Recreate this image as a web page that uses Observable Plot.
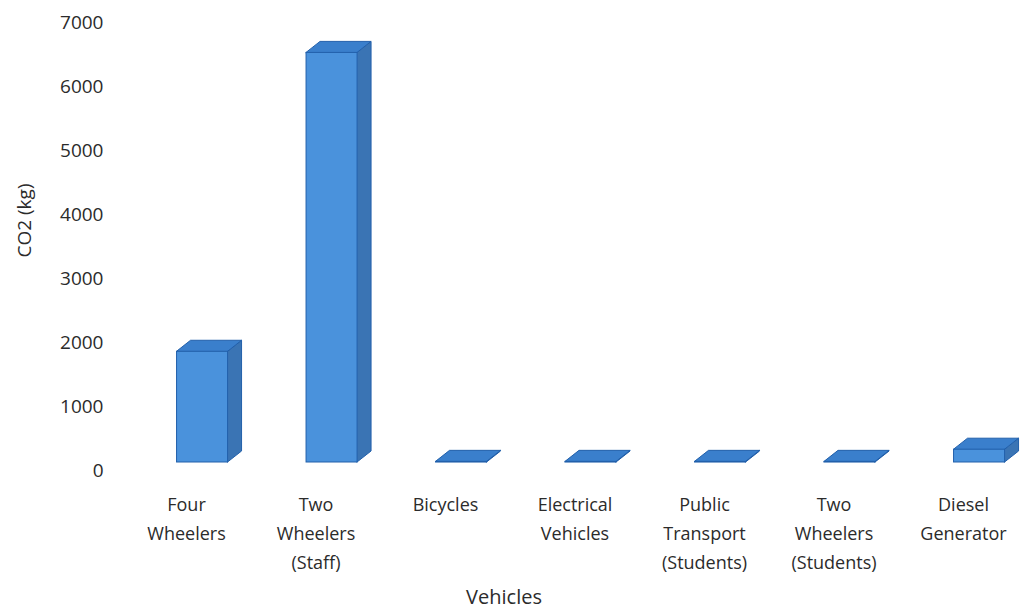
<!DOCTYPE html>
<html>
<head>
<meta charset="utf-8">
<script src="https://cdn.jsdelivr.net/npm/d3@7"></script>
<script src="https://cdn.jsdelivr.net/npm/@observablehq/plot@0.6"></script>
<style>
  html, body { margin: 0; padding: 0; background: #ffffff; }
  #chart { width: 1021px; height: 609px; }
</style>
</head>
<body>
<div id="chart"></div>
<script>
// ---- data ----
const categories = [
  "Four\nWheelers",
  "Two\nWheelers\n(Staff)",
  "Bicycles",
  "Electrical\nVehicles",
  "Public\nTransport\n(Students)",
  "Two\nWheelers\n(Students)",
  "Diesel\nGenerator"
];
const co2 = [1730, 6400, 10, 10, 10, 10, 200];
const yTicks = [0, 1000, 2000, 3000, 4000, 5000, 6000, 7000];
const yLabel = "CO2 (kg)";
const xLabel = "Vehicles";

// ---- 3D bar geometry (in scale units) ----
const faceLeft = -0.073, faceRight = 0.321; // front face relative to category index
const depthX = 0.108;   // depth shift along x (index units)
const depthY = 172;     // depth shift along y (kg units)
const lift = -8;        // pixel lift of the floor

const bars = categories.map((c, i) => ({i, name: c, v: co2[i]}));
const sides = bars.flatMap(d => [
  {i: d.i, x: d.i + faceRight, y1: 0, y2: d.v},
  {i: d.i, x: d.i + faceRight + depthX, y1: depthY, y2: d.v + depthY}
]);
const tops = bars.flatMap(d => [
  {i: d.i, y: d.v, x1: d.i + faceLeft, x2: d.i + faceRight},
  {i: d.i, y: d.v + depthY, x1: d.i + faceLeft + depthX, x2: d.i + faceRight + depthX}
]);

const edge = "#2260ab";

const chart = Plot.plot({
  width: 1021,
  height: 609,
  marginLeft: 110,
  marginRight: 20,
  marginTop: 22,
  marginBottom: 139,
  style: {fontFamily: "'Open Sans', sans-serif", color: "#2b2b2b", background: "#ffffff"},
  x: {type: "linear", domain: [0, 6], range: [186, 963]},
  y: {domain: [0, 7000], range: [470, 22]},
  marks: [
    Plot.area(sides, {x1: "x", y1: "y1", y2: "y2", z: "i", fill: "#3a74b4", stroke: edge, strokeWidth: 1, dy: lift}),
    Plot.areaX(tops, {y: "y", x1: "x1", x2: "x2", z: "i", fill: "#3a7fcc", stroke: edge, strokeWidth: 1, dy: lift}),
    Plot.rect(bars, {x1: d => d.i + faceLeft, x2: d => d.i + faceRight, y1: 0, y2: "v", fill: "#4a92dc", stroke: edge, strokeWidth: 1, dy: lift}),
    Plot.axisY({ticks: yTicks, tickFormat: d => String(d), tickSize: 0, tickPadding: 7, fontSize: 19, label: null}),
    Plot.axisX({ticks: d3.range(categories.length), tickFormat: i => categories[i], tickSize: 0, tickPadding: 20, fontSize: 18, lineHeight: 1.6, label: null}),
    Plot.text([yLabel], {frameAnchor: "left", text: d => d, rotate: -90, dx: -86, dy: -26, fontSize: 19, textAnchor: "middle", lineAnchor: "middle", fill: "#2b2b2b"}),
    Plot.text([xLabel], {frameAnchor: "bottom", text: d => d, dx: -52, dy: 127, fontSize: 20, textAnchor: "middle", lineAnchor: "middle", fill: "#2b2b2b"})
  ]
});
document.getElementById("chart").appendChild(chart);
</script>
</body>
</html>
